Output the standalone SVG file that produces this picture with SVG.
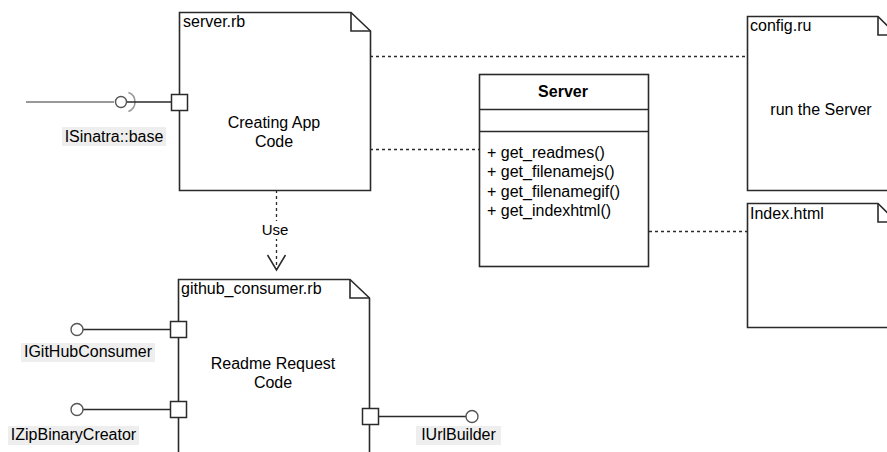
<svg xmlns="http://www.w3.org/2000/svg" width="887" height="452" viewBox="0 0 887 452">
  <style>
    .shape { fill: #ffffff; stroke: #2a2a2a; stroke-width: 1.6; }
    .fold { fill: none; stroke: #2a2a2a; stroke-width: 1.6; }
    .port { fill: #ffffff; stroke: #2a2a2a; stroke-width: 1.5; }
    .wire { fill: none; stroke: #2a2a2a; stroke-width: 1.5; }
    .dash { fill: none; stroke: #2a2a2a; stroke-width: 1.3; stroke-dasharray: 3 3; }
    .lollipop { fill: #ffffff; stroke: #555555; stroke-width: 1.4; }
    .t { font-family: "Liberation Sans", Arial, sans-serif; font-size: 16px; fill: #000000; }
    .mid { text-anchor: middle; }
    .b { font-weight: bold; }
    .lblbg { fill: #eeeeee; }
  </style>

  <!-- connectors -->
  <g id="connectors">
    <line class="dash" x1="370" y1="56.5" x2="747" y2="56.5"/>
    <line class="dash" x1="370" y1="149.5" x2="479" y2="149.5"/>
    <line class="dash" x1="649" y1="231.5" x2="747" y2="231.5"/>
    <line class="dash" x1="276.5" y1="190" x2="276.5" y2="269"/>
    <polyline class="wire" points="267.5,255 276.5,270 285.5,255"/>
    <rect x="261" y="221" width="30" height="18" fill="#ffffff"/>
    <text class="t mid" x="275" y="235" style="font-size:15px">Use</text>
  </g>

  <!-- server.rb -->
  <g id="server-rb">
    <path class="shape" d="M179.5,12.5 H351 L370.5,31 V190.5 H179.5 Z"/>
    <path class="fold" d="M351,12.5 V31 H370.5"/>
    <text class="t" x="183" y="27">server.rb</text>
    <text class="t mid" x="274" y="128">Creating App</text>
    <text class="t mid" x="274" y="147">Code</text>
    <line x1="26" y1="102" x2="114" y2="102" stroke="#999999" stroke-width="2.2"/>
    <path d="M128.4,92.6 A10,10 0 0 1 128.4,111.4" fill="none" stroke="#999999" stroke-width="1.6"/>
    <line class="wire" x1="127" y1="102" x2="171" y2="102"/>
    <circle class="lollipop" cx="121" cy="102" r="5.5"/>
    <rect class="port" x="171.5" y="94.5" width="16" height="16"/>
    <rect class="lblbg" x="62" y="127" width="104" height="19"/>
    <text class="t mid" x="114" y="142">ISinatra::base</text>
  </g>

  <!-- github_consumer.rb -->
  <g id="github-consumer-rb">
    <path class="shape" d="M178.5,279.5 H350 L369.5,298 V470 H178.5 Z"/>
    <path class="fold" d="M350,279.5 V298 H369.5"/>
    <text class="t" x="181" y="294">github_consumer.rb</text>
    <text class="t mid" x="273" y="369">Readme Request</text>
    <text class="t mid" x="273" y="388">Code</text>

    <line class="wire" x1="83" y1="329.5" x2="170" y2="329.5"/>
    <circle class="lollipop" cx="77" cy="329.5" r="6"/>
    <rect class="port" x="170.5" y="321.5" width="16" height="16"/>
    <rect class="lblbg" x="21" y="343" width="134" height="19"/>
    <text class="t mid" x="88" y="357">IGitHubConsumer</text>

    <line class="wire" x1="83" y1="409.5" x2="170" y2="409.5"/>
    <circle class="lollipop" cx="77" cy="409.5" r="6"/>
    <rect class="port" x="170.5" y="401.5" width="16" height="16"/>
    <rect class="lblbg" x="8" y="426" width="131" height="19"/>
    <text class="t mid" x="73.5" y="440">IZipBinaryCreator</text>

    <line class="wire" x1="378" y1="416.5" x2="466" y2="416.5"/>
    <circle class="lollipop" cx="472" cy="416.5" r="6"/>
    <rect class="port" x="362.5" y="408.5" width="16" height="16"/>
    <rect class="lblbg" x="416" y="426" width="85" height="19"/>
    <text class="t mid" x="458.5" y="440">IUrlBuilder</text>
  </g>

  <!-- Server class -->
  <g id="server-class">
    <rect class="shape" x="479.5" y="74.5" width="169" height="192"/>
    <line class="wire" x1="479.5" y1="109.5" x2="648.5" y2="109.5"/>
    <line class="wire" x1="479.5" y1="131.5" x2="648.5" y2="131.5"/>
    <text class="t mid b" x="563" y="97">Server</text>
    <text class="t" x="487" y="158">+ get_readmes()</text>
    <text class="t" x="487" y="177">+ get_filenamejs()</text>
    <text class="t" x="487" y="197">+ get_filenamegif()</text>
    <text class="t" x="487" y="216">+ get_indexhtml()</text>
  </g>

  <!-- config.ru -->
  <g id="config-ru">
    <path class="shape" d="M747.5,16.5 H878 L897,35 V190.5 H747.5 Z"/>
    <path class="fold" d="M878,16.5 V35 H897"/>
    <text class="t" x="750" y="31">config.ru</text>
    <text class="t mid" x="821" y="115">run the Server</text>
  </g>

  <!-- Index.html -->
  <g id="index-html">
    <path class="shape" d="M747.5,203.5 H878 L897,222 V327.5 H747.5 Z"/>
    <path class="fold" d="M878,203.5 V222 H897"/>
    <text class="t" x="750" y="219">Index.html</text>
  </g>
</svg>
